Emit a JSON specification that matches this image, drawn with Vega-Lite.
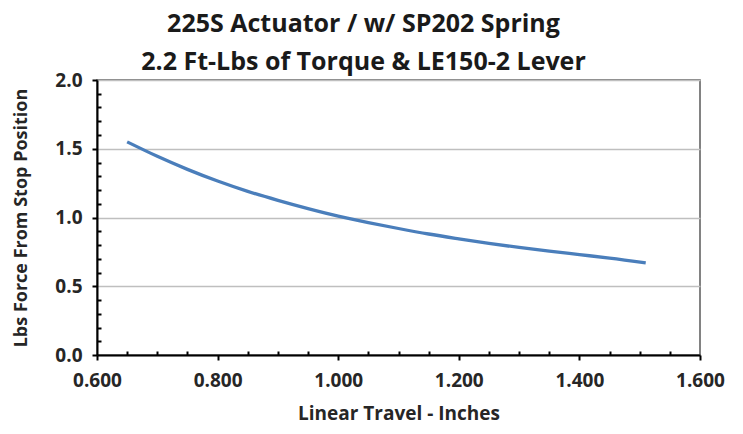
{
  "$schema": "https://vega.github.io/schema/vega-lite/v6.json",
  "width": 603,
  "height": 275,
  "autosize": {"type": "none"},
  "padding": {"left": 97, "top": 80, "right": 43, "bottom": 79},
  "background": "white",
  "title": {
    "text": ["225S Actuator / w/ SP202 Spring", "2.2 Ft-Lbs of Torque & LE150-2 Lever"],
    "font": "Open Sans",
    "fontSize": 25,
    "fontWeight": "bold",
    "color": "#1a1a1a",
    "lineHeight": 38,
    "anchor": "middle",
    "dx": -35,
    "dy": 14,
    "offset": 10
  },
  "config": {
    "view": {"stroke": "#595959", "strokeWidth": 1.5},
    "axis": {
      "labelFont": "Open Sans",
      "labelFontWeight": "bold",
      "labelFontSize": 19,
      "labelColor": "#262626",
      "titleFont": "Open Sans",
      "titleFontWeight": "bold",
      "titleFontSize": 18,
      "titleColor": "#262626",
      "domainColor": "#000000",
      "domainWidth": 2,
      "tickColor": "#000000",
      "tickWidth": 2
    }
  },
  "data": {
    "values": [
      {"x": 0.65, "y": 1.55},
      {"x": 0.70, "y": 1.445},
      {"x": 0.75, "y": 1.35},
      {"x": 0.80, "y": 1.265},
      {"x": 0.85, "y": 1.19},
      {"x": 0.90, "y": 1.125},
      {"x": 0.95, "y": 1.065},
      {"x": 1.00, "y": 1.01},
      {"x": 1.05, "y": 0.963},
      {"x": 1.10, "y": 0.92},
      {"x": 1.15, "y": 0.88},
      {"x": 1.20, "y": 0.845},
      {"x": 1.25, "y": 0.812},
      {"x": 1.30, "y": 0.782},
      {"x": 1.35, "y": 0.755},
      {"x": 1.40, "y": 0.73},
      {"x": 1.45, "y": 0.705},
      {"x": 1.51, "y": 0.67}
    ]
  },
  "mark": {"type": "line", "color": "#4a7ebb", "strokeWidth": 3.3, "interpolate": "monotone"},
  "encoding": {
    "x": {
      "field": "x",
      "type": "quantitative",
      "scale": {"domain": [0.6, 1.6], "nice": false, "zero": false},
      "axis": {
        "title": "Linear Travel - Inches",
        "titleFontSize": 19,
        "values": [0.6,0.65,0.7,0.75,0.8,0.85,0.9,0.95,1.0,1.05,1.1,1.15,1.2,1.25,1.3,1.35,1.4,1.45,1.5,1.55,1.6],
        "labelExpr": "abs(datum.value*5-round(datum.value*5))<0.001 ? format(datum.value,'.3f') : ''",
        "grid": false,
        "tickSize": {"condition": {"test": "abs(datum.value*5-round(datum.value*5))<0.001", "value": 5}, "value": -4},
        "labelPadding": 11,
        "titlePadding": 14,
        "labelFlush": false,
        "labelOverlap": false
      }
    },
    "y": {
      "field": "y",
      "type": "quantitative",
      "scale": {"domain": [0, 2], "nice": false},
      "axis": {
        "title": "Lbs Force From Stop Position",
        "values": [0,0.1,0.2,0.3,0.4,0.5,0.6,0.7,0.8,0.9,1.0,1.1,1.2,1.3,1.4,1.5,1.6,1.7,1.8,1.9,2.0],
        "labelExpr": "abs(datum.value*2-round(datum.value*2))<0.001 ? format(datum.value,'.1f') : ''",
        "grid": true,
        "gridColor": "#bfbfbf",
        "gridWidth": 1.5,
        "gridOpacity": {"condition": {"test": "abs(datum.value*2-round(datum.value*2))<0.001", "value": 1}, "value": 0},
        "tickSize": {"condition": {"test": "abs(datum.value*2-round(datum.value*2))<0.001", "value": 5}, "value": -4},
        "labelPadding": 10,
        "titlePadding": 24,
        "labelFlush": false,
        "labelOverlap": false
      }
    }
  }
}
